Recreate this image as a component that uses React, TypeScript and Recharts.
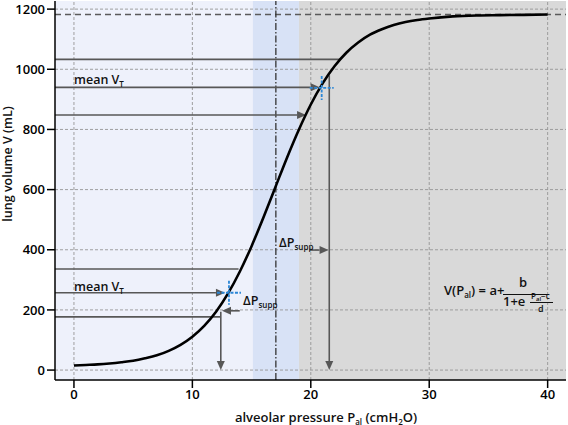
import { ComposedChart, Line, XAxis, YAxis, ReferenceArea, ReferenceLine, ReferenceDot } from "recharts"

// pressure-volume curve
const pressure = [0, 1, 2, 3, 4, 5, 6, 7, 8, 9, 10, 11, 12, 13, 14, 15, 16, 17, 18, 19, 20, 21, 22, 23, 24, 25, 26, 27, 28, 29, 30, 32, 34, 36, 38, 40]
const volume = [15, 17, 19, 22, 26, 31, 39, 49, 64, 84, 111, 147, 194, 254, 327, 412, 507, 607, 707, 800, 883, 953, 1010, 1055, 1089, 1115, 1133, 1147, 1157, 1164, 1169, 1176, 1179, 1180, 1181, 1182]

const xTicks = [0, 10, 20, 30, 40]
const yTicks = [0, 200, 400, 600, 800, 1000, 1200]
const xDomain = [-1.6, 41.55]
const yDomain = [-33, 1227]

const plateau = 1182
const inflection = 17.05
const bandStart = 15.1
const bandEnd = 19.0

// horizontal guide lines: level, where it stops, arrow head or not
const upperLevels = [1033, 940, 848]
const upperStops = [22.47, 20.75, 19.6]
const upperHeads = [false, true, true]
const lowerLevels = [336, 257, 177]
const lowerStops = [13.9, 12.75, 12.4]
const lowerHeads = [false, true, false]

const meanP = [13.09, 20.92]
const meanV = [257, 938]

const deltaFrom = [14.0, 19.9]
const deltaTo = [12.5, 21.5]
const deltaV = [197, 399]

const dropP = [12.4, 21.56]
const dropTop = [194, 980]

const curve = pressure.map((p, i) => ({ p, v: volume[i] }))

const font = "'Open Sans', 'Noto Sans', sans-serif"
const guide = "#575757"
const gridColor = "#959595"

const arrow = (head: boolean) => (props: any) => {
  const { x1, y1, x2, y2 } = props
  if (!head) return <line x1={x1} y1={y1} x2={x2} y2={y2} stroke={guide} strokeWidth={1.6} />
  const a = Math.atan2(y2 - y1, x2 - x1)
  const L = 9
  const W = 4
  const bx = x2 - L * Math.cos(a)
  const by = y2 - L * Math.sin(a)
  const pts = `${x2},${y2} ${bx - W * Math.sin(a)},${by + W * Math.cos(a)} ${bx + W * Math.sin(a)},${by - W * Math.cos(a)}`
  return (
    <g>
      <line x1={x1} y1={y1} x2={bx} y2={by} stroke={guide} strokeWidth={1.6} />
      <polygon points={pts} fill={guide} />
    </g>
  )
}

const cross = (props: any) => {
  const { cx, cy } = props
  return (
    <g stroke="#2a86d6" strokeWidth={1.8} strokeDasharray="3 1.5">
      <line x1={cx - 12} y1={cy} x2={cx + 12} y2={cy} />
      <line x1={cx} y1={cy - 12} x2={cx} y2={cy + 12} />
    </g>
  )
}

const Sub = ({ children }: { children: any }) => (
  <span style={{ fontSize: 8, position: "relative", top: 3 }}>{children}</span>
)

const textStyle = (left: number, top: number, extra: any = {}) => ({
  position: "absolute" as const,
  left,
  top,
  transform: "translateY(-50%)",
  fontFamily: font,
  fontSize: 12.5,
  fontWeight: 600,
  color: "#111",
  whiteSpace: "nowrap" as const,
  lineHeight: 1,
  ...extra,
})

export default function App() {
  return (
    <div style={{ position: "absolute", left: 0, top: 0, width: 568, height: 425, background: "#fff" }}>
      <ComposedChart width={568} height={425} data={curve} margin={{ top: 1, right: 2, bottom: 0, left: 0 }}>
        <ReferenceArea x1={xDomain[0]} x2={bandStart} y1={yDomain[0]} y2={yDomain[1]} fill="#eef1fb" fillOpacity={1} ifOverflow="visible" />
        <ReferenceArea x1={bandStart} x2={bandEnd} y1={yDomain[0]} y2={yDomain[1]} fill="#d8e2f6" fillOpacity={1} ifOverflow="visible" />
        <ReferenceArea x1={bandEnd} x2={xDomain[1]} y1={yDomain[0]} y2={yDomain[1]} fill="#d9d9d9" fillOpacity={1} ifOverflow="visible" />
        <XAxis
          dataKey="p"
          type="number"
          domain={xDomain}
          ticks={xTicks}
          allowDataOverflow
          height={45}
          tickSize={8}
          tickMargin={2}
          axisLine={{ stroke: "#000", strokeWidth: 1.5 }}
          tickLine={{ stroke: "#000", strokeWidth: 1.5 }}
          tick={{ fill: "#000", fontSize: 13, fontFamily: font, fontWeight: 600 }}
        />
        <XAxis xAxisId="top" orientation="top" type="number" dataKey="p" domain={xDomain} allowDataOverflow height={0} tick={false} tickLine={false} axisLine={{ stroke: "#000", strokeWidth: 1.5 }} />
        <YAxis
          type="number"
          domain={yDomain}
          ticks={yTicks}
          allowDataOverflow
          width={55}
          tickSize={8}
          tickMargin={2}
          axisLine={{ stroke: "#000", strokeWidth: 1.5 }}
          tickLine={{ stroke: "#000", strokeWidth: 1.5 }}
          tick={{ fill: "#000", fontSize: 13, fontFamily: font, fontWeight: 600 }}
        />
        <YAxis yAxisId="right" orientation="right" type="number" domain={yDomain} allowDataOverflow width={0} tick={false} tickLine={false} axisLine={{ stroke: "#000", strokeWidth: 1.5 }} />

        {xTicks.map((t) => (
          <ReferenceLine key={"gx" + t} x={t} stroke={gridColor} strokeWidth={0.9} strokeDasharray="3 2" />
        ))}
        {yTicks.map((t) => (
          <ReferenceLine key={"gy" + t} y={t} stroke={gridColor} strokeWidth={0.9} strokeDasharray="3 2" />
        ))}

        <ReferenceLine y={plateau} stroke="#5a5a5a" strokeWidth={1.5} strokeDasharray="6 4" />
        <ReferenceLine x={inflection} stroke="#333" strokeWidth={1.3} strokeDasharray="7 2 1.5 2" />

        {upperLevels.map((v, i) => (
          <ReferenceLine key={"u" + i} segment={[{ x: xDomain[0], y: v }, { x: upperStops[i], y: v }]} ifOverflow="visible" shape={arrow(upperHeads[i])} />
        ))}
        {lowerLevels.map((v, i) => (
          <ReferenceLine key={"l" + i} segment={[{ x: xDomain[0], y: v }, { x: lowerStops[i], y: v }]} ifOverflow="visible" shape={arrow(lowerHeads[i])} />
        ))}
        {deltaV.map((v, i) => (
          <ReferenceLine key={"d" + i} segment={[{ x: deltaFrom[i], y: v }, { x: deltaTo[i], y: v }]} ifOverflow="visible" shape={arrow(true)} />
        ))}
        {dropP.map((p, i) => (
          <ReferenceLine key={"v" + i} segment={[{ x: p, y: dropTop[i] }, { x: p, y: 0 }]} ifOverflow="visible" shape={arrow(true)} />
        ))}

        <Line dataKey="v" type="monotone" stroke="#000" strokeWidth={2.6} dot={false} activeDot={false} isAnimationActive={false} />

        {meanP.map((p, i) => (
          <ReferenceDot key={"m" + i} x={p} y={meanV[i]} r={0} ifOverflow="visible" shape={cross} />
        ))}
      </ComposedChart>

      <div style={textStyle(74, 80)}>mean V<Sub>T</Sub></div>
      <div style={textStyle(74, 287)}>mean V<Sub>T</Sub></div>
      <div style={textStyle(243, 301)}>ΔP<Sub>supp</Sub></div>
      <div style={textStyle(279, 243)}>ΔP<Sub>supp</Sub></div>

      <div style={textStyle(444, 290, { fontSize: 13 })}>V(P<Sub>al</Sub>) = a+</div>
      <div style={textStyle(519, 282, { fontSize: 13 })}>b</div>
      <div style={{ position: "absolute", left: 503, top: 293.5, width: 45, height: 1.4, background: "#111" }} />
      <div style={textStyle(503, 301, { fontSize: 13 })}>1+e</div>
      <div style={textStyle(531, 296, { fontSize: 8 })}>P<span style={{ fontSize: 6, position: "relative", top: 2 }}>al</span>−c</div>
      <div style={{ position: "absolute", left: 530, top: 302, width: 23, height: 1.1, background: "#111" }} />
      <div style={textStyle(538, 308, { fontSize: 9 })}>d</div>

      <div style={{ ...textStyle(326, 417, { fontSize: 13 }), transform: "translate(-50%, -50%)" }}>
        alveolar pressure P<Sub>al</Sub> (cmH<Sub>2</Sub>O)
      </div>
      <div style={{ ...textStyle(8, 164, { fontSize: 12.5 }), transform: "translate(-50%, -50%) rotate(-90deg)" }}>
        lung volume V (mL)
      </div>
    </div>
  )
}
